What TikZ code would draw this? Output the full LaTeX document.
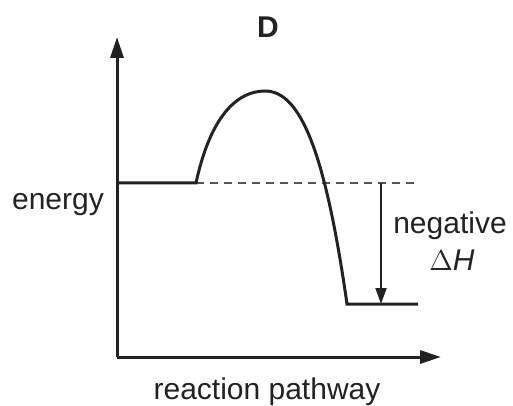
\documentclass[tikz,border=0pt]{standalone}
\usepackage{fontspec}
\setmainfont{Liberation Sans}
\usetikzlibrary{arrows.meta}
\definecolor{ink}{HTML}{222222}
\definecolor{muted}{HTML}{555555}
\tikzset{
  axis/.style={-{Triangle[length=10.5pt, width=6.5pt]}, line width=1.5pt, draw=ink},
  profile/.style={line width=1.5pt, draw=ink},
  guide/.style={line width=0.8pt, draw=muted, dash pattern=on 4pt off 3pt},
  change/.style={-{Triangle[length=8pt, width=5.5pt]}, line width=1pt, draw=ink},
  label/.style={text=ink, inner sep=0pt, anchor=base, font=\fontsize{15}{18}\selectfont}
}
\begin{document}
\begin{tikzpicture}[x=0.5pt, y=-0.5pt]
  \useasboundingbox (0,0) rectangle (513,406);

  \coordinate (origin) at (117,357);
  \coordinate (ytip) at (117,37);
  \coordinate (xtip) at (441,357);
  \coordinate (reactstart) at (117,183);
  \coordinate (react) at (196,183);
  \coordinate (peak) at (265,91);
  \coordinate (prod) at (347,304);
  \coordinate (prodend) at (418,304);
  \coordinate (guideend) at (418,183);
  \coordinate (dhtop) at (381,183);
  \coordinate (dhbot) at (381,304);

  \draw[axis] (origin) -- (ytip);
  \draw[axis] (origin) -- (xtip);

  \draw[guide] (react) -- (guideend);
  \draw[profile] (reactstart) -- (react)
    .. controls (210,118) and (236,91) .. (peak)
    .. controls (300,91) and (325,150) .. (prod) -- (prodend);
  \draw[change] (dhtop) -- (dhbot);

  \node[label, font=\fontsize{15}{18}\selectfont\bfseries] (title) at (268,38) {D};
  \node[label] (ylabel) at (58,210) {energy};
  \node[label] (xlabel) at (267,399) {reaction pathway};
  \node[label] (neg) at (450,233) {negative};
  \node[label] (dh) at (452,270) {$\Delta$\textit{H}};
\end{tikzpicture}
\end{document}
